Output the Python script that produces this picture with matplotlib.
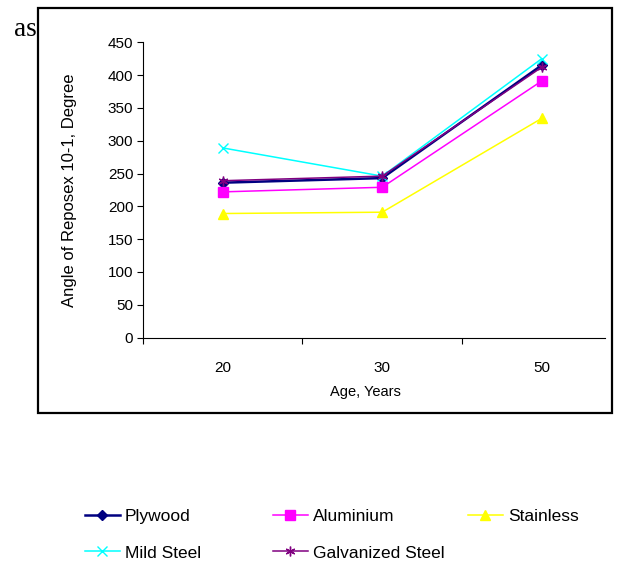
import matplotlib
matplotlib.use("Agg")
import matplotlib.pyplot as plt
from matplotlib.patches import Rectangle

ages = ["20", "30", "50"]
plywood = [236, 243, 415]
aluminium = [222, 229, 391]
stainless = [189, 191, 334]
mild_steel = [289, 246, 425]
galvanized = [239, 246, 412]
y_ticks = [0, 50, 100, 150, 200, 250, 300, 350, 400, 450]

plt.rcParams['font.family'] = ['Liberation Sans', 'DejaVu Sans']

W, H = 625, 564
fig = plt.figure(figsize=(W / 100, H / 100), dpi=100)
ax = fig.add_axes([143 / W, 1 - 337.5 / H, (605 - 143) / W, (337.5 - 42.3) / H])

x = list(range(len(ages)))
series = [
    ("Plywood", plywood, "#000080", "D", 5.5, 1.8),
    ("Aluminium", aluminium, "#FF00FF", "s", 6.5, 1.1),
    ("Stainless", stainless, "#FFFF00", "^", 6.5, 1.1),
    ("Mild Steel", mild_steel, "#00FFFF", "x", 7, 1.1),
    ("Galvanized Steel", galvanized, "#800080", (6, 2, 0), 7, 1.1),
]
handles = {}
for name, vals, col, mk, ms, lw in series:
    h, = ax.plot(x, vals, color=col, marker=mk, markersize=ms, linewidth=lw,
                 markeredgecolor=col, markerfacecolor=col, markeredgewidth=1.0,
                 label=name, clip_on=False)
    handles[name] = h

ax.set_xlim(-0.5, 2.397)
ax.set_ylim(0, 450)
ax.set_yticks(y_ticks)
ax.set_xticks(x)
ax.set_xticklabels(ages)
ax.set_xticks([-0.5, 0.5, 1.5], minor=True)
ax.tick_params(axis='x', which='major', length=0, pad=17, labelsize=11)
ax.tick_params(axis='x', which='minor', length=4, width=0.8, direction='out')
ax.tick_params(axis='y', length=4, width=0.8, direction='out', labelsize=11, pad=3)
for s in ['top', 'right']:
    ax.spines[s].set_visible(False)
for s in ['left', 'bottom']:
    ax.spines[s].set_linewidth(0.8)

ax.set_xlabel("Age, Years", fontsize=10.5)
ax.xaxis.set_label_coords((365 - 143) / (605 - 143), -(385 - 337.5) / (337.5 - 42.3))
ax.set_ylabel("Angle of Reposex 10-1, Degree", fontsize=12)
ax.yaxis.set_label_coords(-(143 - 77) / (605 - 143), 0.5)

# outer frame
fig.patches.append(Rectangle((38 / W, 1 - 413 / H), (612 - 38) / W, (413 - 8) / H,
                             transform=fig.transFigure, fill=False,
                             edgecolor='black', linewidth=1.6))
fig.text(14 / W, 1 - 36 / H, "as", fontsize=19.5, family=['Liberation Serif', 'DejaVu Serif'])

# legend in three columns
cols = [
    (85, ["Plywood", "Mild Steel"]),
    (273, ["Aluminium", "Galvanized Steel"]),
    (468, ["Stainless"]),
]
for xpos, names in cols:
    lg = fig.legend([handles[n] for n in names], names, loc='upper left',
                    bbox_to_anchor=(xpos / W, 1 - 508.5 / H), frameon=False,
                    fontsize=12.5, handlelength=2.0, handletextpad=0.3,
                    labelspacing=1.25, borderpad=0, borderaxespad=0)

fig.savefig("out.png", dpi=100)
